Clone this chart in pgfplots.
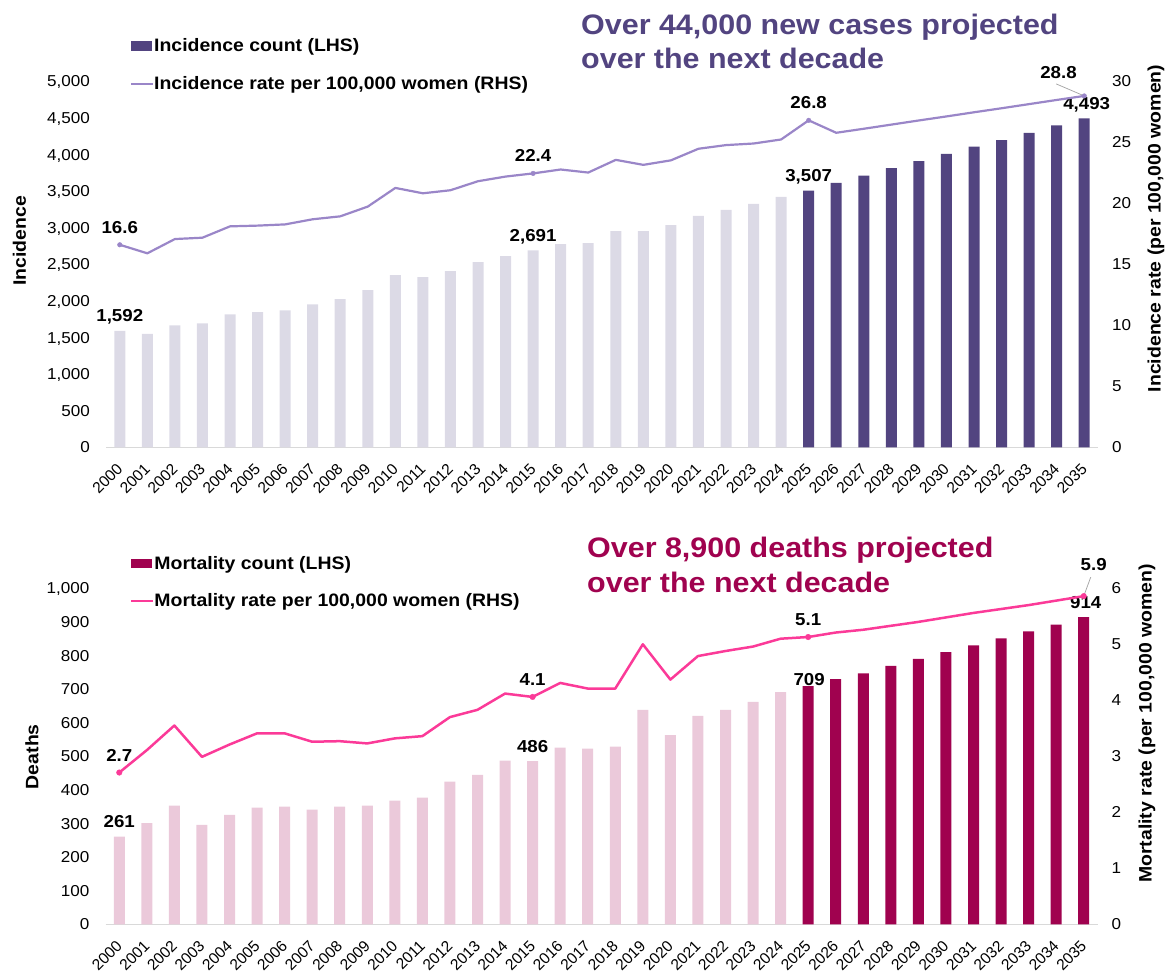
\documentclass[border=0pt]{standalone}
\usepackage{fontspec}
\setmainfont{Liberation Sans}[FakeStretch=1.08]
\newfontfamily\xtickfam{Liberation Sans}
\usepackage{pgfplots}
\pgfplotsset{compat=1.18}
\usepackage{pgfplotstable}

\definecolor{incdark}{HTML}{524480}
\definecolor{inclight}{HTML}{DCDAE6}
\definecolor{incline}{HTML}{9A86C8}
\definecolor{mortdark}{HTML}{A0024F}
\definecolor{mortlight}{HTML}{EBC9DA}
\definecolor{mortline}{HTML}{FB3A98}
\definecolor{axgray}{HTML}{D9D9D9}
\definecolor{leadgray}{HTML}{A6A6A6}

\newcommand{\tickfont}{\fontsize{15.8}{18}\selectfont}
\newcommand{\xtickfont}{\xtickfam\fontsize{15.6}{18}\selectfont}
\newcommand{\labfont}{\fontsize{17.3}{20}\selectfont\bfseries}
\newcommand{\legfont}{\fontsize{18}{21}\selectfont\bfseries}
\newcommand{\axtitlefont}{\fontsize{18}{21}\selectfont\bfseries}
\newcommand{\titlefont}{\fontsize{28.2}{34}\selectfont\bfseries}

% ---------- Incidence data ----------
\pgfplotstableread{
year count
2000 1592
2001 1550
2002 1667
2003 1694
2004 1817
2005 1845
2006 1872
2007 1954
2008 2023
2009 2146
2010 2352
2011 2324
2012 2406
2013 2530
2014 2612
2015 2691
2016 2776
2017 2790
2018 2954
2019 2954
2020 3036
2021 3160
2022 3242
2023 3324
2024 3420
}\inchist
\pgfplotstableread{
year count
2025 3507
2026 3612
2027 3712
2028 3813
2029 3909
2030 4009
2031 4109
2032 4196
2033 4297
2034 4397
2035 4493
}\incproj
\pgfplotstableread{
year rate
2000 16.6
2001 15.9
2002 17.07
2003 17.18
2004 18.11
2005 18.17
2006 18.27
2007 18.69
2008 18.93
2009 19.73
2010 21.26
2011 20.82
2012 21.07
2013 21.81
2014 22.19
2015 22.45
2016 22.77
2017 22.52
2018 23.56
2019 23.15
2020 23.52
2021 24.47
2022 24.77
2023 24.9
2024 25.23
2025 26.8
2026 25.78
2027 26.11
2028 26.45
2029 26.79
2030 27.12
2031 27.46
2032 27.79
2033 28.13
2034 28.47
2035 28.8
}\incrate
\pgfplotstableread{
year count lab
2000 1592 1,592
2015 2691 2,691
2025 3507 3,507
}\inclab
\pgfplotstableread{
year count lab
2035 4493 4,493
}\inclabend
\pgfplotstableread{
year rate lab
2000 16.6 16.6
2015 22.45 22.4
2025 26.8 26.8
}\incratelab
\pgfplotstableread{
year rate lab
2035 28.8 28.8
}\incratelabend

% ---------- Mortality data ----------
\pgfplotstableread{
year count
2000 261
2001 301
2002 353
2003 296
2004 326
2005 347
2006 350
2007 341
2008 350
2009 353
2010 368
2011 377
2012 425
2013 445
2014 487
2015 486
2016 526
2017 523
2018 529
2019 638
2020 563
2021 620
2022 638
2023 662
2024 691
}\morthist
\pgfplotstableread{
year count
2025 709
2026 730
2027 747
2028 769
2029 790
2030 810
2031 830
2032 851
2033 872
2034 892
2035 914
}\mortproj
\pgfplotstableread{
year rate
2000 2.71
2001 3.11
2002 3.55
2003 2.99
2004 3.21
2005 3.41
2006 3.41
2007 3.26
2008 3.27
2009 3.23
2010 3.32
2011 3.36
2012 3.70
2013 3.83
2014 4.12
2015 4.06
2016 4.31
2017 4.21
2018 4.21
2019 5.00
2020 4.37
2021 4.79
2022 4.88
2023 4.96
2024 5.10
2025 5.13
2026 5.21
2027 5.26
2028 5.33
2029 5.40
2030 5.48
2031 5.56
2032 5.63
2033 5.70
2034 5.78
2035 5.86
}\mortrate
\pgfplotstableread{
year count lab
2000 261 261
2015 486 486
}\mortlab
\pgfplotstableread{
year count lab
2025 709 709
}\mortlabmid
\pgfplotstableread{
year count lab
2035 914 914
}\mortlabend
\pgfplotstableread{
year rate lab
2000 2.71 2.7
2015 4.06 4.1
2025 5.13 5.1
}\mortratelab
\pgfplotstableread{
year rate lab
2035 5.86 5.9
}\mortratelabend

\pgfplotsset{
  baseax/.style={
    scale only axis, width=992pt, clip=false,
    xmin=1999.5, xmax=2035.5,
    /pgf/number format/assume math mode=true,
    major tick length=0pt,
    ylabel style={font=\axtitlefont, anchor=center},
  },
  leftax/.style={
    baseax,
    axis x line*=bottom, axis y line*=left,
    x axis line style={draw=axgray, line width=1.3pt},
    y axis line style={draw=none},
    xtick={2000,2001,...,2035},
    xticklabels={2000,2001,2002,2003,2004,2005,2006,2007,2008,2009,2010,2011,2012,2013,2014,2015,2016,2017,2018,2019,2020,2021,2022,2023,2024,2025,2026,2027,2028,2029,2030,2031,2032,2033,2034,2035},
    xticklabel style={font=\xtickfont, inner sep=0pt, yshift=-19pt, rotate=45, anchor=east},
    yticklabel style={font=\tickfont, inner sep=0pt, anchor=base east, xshift=-16pt, yshift=-5.66pt, /pgf/number format/1000 sep={,}},
    legend cell align=left,
    legend style={anchor=north west, draw=none, fill=none, inner sep=0pt, outer sep=0pt,
      font=\legfont, row sep=23pt, nodes={inner sep=0pt, outer sep=0pt}},
  },
  rightax/.style={
    baseax,
    axis x line=none, axis y line*=right,
    y axis line style={draw=none},
    xtick=\empty,
    yticklabel style={font=\tickfont, inner sep=0pt, anchor=base west, xshift=14pt, yshift=-5.66pt},
  },
  barlab/.style={draw=none, forget plot, nodes near coords, point meta=explicit symbolic,
    nodes near coords style={font=\labfont, text=black, anchor=base, inner sep=0pt, #1}},
  incbarleg/.style={legend image code/.code={\fill[incdark] (0pt,-4.85pt) rectangle (21pt,4.85pt); \path (23pt,0pt);}},
  inclineleg/.style={legend image code/.code={\draw[incline, line width=2pt] (0pt,0pt) -- (21.5pt,0pt); \path (23pt,0pt);}},
  mortbarleg/.style={legend image code/.code={\fill[mortdark] (0pt,-4.85pt) rectangle (21pt,4.85pt); \path (23pt,0pt);}},
  mortlineleg/.style={legend image code/.code={\draw[mortline, line width=2.5pt] (0pt,0pt) -- (21.5pt,0pt); \path (23pt,0pt);}},
}

\begin{document}
\begin{tikzpicture}
% ================= TOP: INCIDENCE =================
\begin{axis}[leftax, at={(106pt,524.7pt)}, anchor=south west, height=366pt,
  ymin=0, ymax=5000, ytick={0,500,...,5000},
  ylabel={Incidence}, ylabel style={at={(axis description cs:-0.0872,0.5642)}},
  legend style={at={(axis description cs:0.0242,1.1159)}}]
\addplot[ybar, bar width=11pt, fill=inclight, draw=none, forget plot] table[x=year,y=count]{\inchist};
\addplot[ybar, bar width=11pt, fill=incdark, draw=none, incbarleg] table[x=year,y=count]{\incproj};
\addlegendentry{Incidence count (LHS)}
\addlegendimage{inclineleg}
\addlegendentry{Incidence rate per 100,000 women (RHS)}
\addplot[barlab={yshift=9pt}] table[x=year,y=count,meta=lab]{\inclab};
\addplot[barlab={xshift=2.5pt,yshift=9pt}] table[x=year,y=count,meta=lab]{\inclabend};
\end{axis}
\begin{axis}[rightax, at={(106pt,524.7pt)}, anchor=south west, height=366pt,
  ymin=0, ymax=30, ytick={0,5,...,30},
  ylabel={Incidence rate (per 100,000 women)}, ylabel style={at={(axis description cs:1.0585,0.598)}}]
\addplot[incline, line width=2.2pt, line join=round, mark=none] table[x=year,y=rate]{\incrate};
\addplot[only marks, mark=*, mark size=2.3pt, color=incline, forget plot, nodes near coords, point meta=explicit symbolic,
  nodes near coords style={font=\labfont, text=black, anchor=base, inner sep=0pt, yshift=11.5pt}]
  table[x=year,y=rate,meta=lab]{\incratelab};
\draw[leadgray, line width=0.75pt] (axis cs:2035,28.8) -- ++(-28pt,12pt);
\addplot[only marks, mark=*, mark size=2.3pt, color=incline, forget plot, nodes near coords, point meta=explicit symbolic,
  nodes near coords style={font=\labfont, text=black, anchor=base, inner sep=0pt, xshift=-25.7pt, yshift=17.8pt}]
  table[x=year,y=rate,meta=lab]{\incratelabend};
\end{axis}
\node[anchor=base west, inner sep=0pt, font=\titlefont, text=incdark] at (581pt,937pt) {Over 44,000 new cases projected};
\node[anchor=base west, inner sep=0pt, font=\titlefont, text=incdark] at (581pt,903pt) {over the next decade};

% ================= BOTTOM: MORTALITY =================
\begin{axis}[leftax, at={(105.5pt,47.7pt)}, anchor=south west, height=336pt,
  ymin=0, ymax=1000, ytick={0,100,...,1000},
  ylabel={Deaths}, ylabel style={at={(axis description cs:-0.0741,0.4988)}},
  legend style={at={(axis description cs:0.0247,1.0955)}}]
\addplot[ybar, bar width=11pt, fill=mortlight, draw=none, forget plot] table[x=year,y=count]{\morthist};
\addplot[ybar, bar width=11pt, fill=mortdark, draw=none, mortbarleg] table[x=year,y=count]{\mortproj};
\addlegendentry{Mortality count (LHS)}
\addlegendimage{mortlineleg}
\addlegendentry{Mortality rate per 100,000 women (RHS)}
\addplot[barlab={yshift=9pt}] table[x=year,y=count,meta=lab]{\mortlab};
\addplot[barlab={xshift=1pt,yshift=0.5pt}] table[x=year,y=count,meta=lab]{\mortlabmid};
\addplot[barlab={xshift=2pt,yshift=8.7pt}] table[x=year,y=count,meta=lab]{\mortlabend};
\end{axis}
\begin{axis}[rightax, at={(105.5pt,47.7pt)}, anchor=south west, height=336pt,
  ymin=0, ymax=6, ytick={0,1,...,6},
  ylabel={Mortality rate (per 100,000 women)}, ylabel style={at={(axis description cs:1.0499,0.598)}}]
\addplot[mortline, line width=2.5pt, line join=round, mark=none] table[x=year,y=rate]{\mortrate};
\addplot[only marks, mark=*, mark size=2.8pt, color=mortline, forget plot, nodes near coords, point meta=explicit symbolic,
  nodes near coords style={font=\labfont, text=black, anchor=base, inner sep=0pt, yshift=11.3pt}]
  table[x=year,y=rate,meta=lab]{\mortratelab};
\draw[leadgray, line width=0.75pt] (axis cs:2035,5.86) -- ++(7pt,19pt);
\addplot[only marks, mark=*, mark size=2.8pt, color=mortline, forget plot, nodes near coords, point meta=explicit symbolic,
  nodes near coords style={font=\labfont, text=black, anchor=base, inner sep=0pt, xshift=10pt, yshift=25.5pt}]
  table[x=year,y=rate,meta=lab]{\mortratelabend};
\end{axis}
\node[anchor=base west, inner sep=0pt, font=\titlefont, text=mortdark] at (587pt,414pt) {Over 8,900 deaths projected};
\node[anchor=base west, inner sep=0pt, font=\titlefont, text=mortdark] at (587pt,379pt) {over the next decade};

\pgfresetboundingbox
\path[use as bounding box] (0,0) rectangle (1172pt,972pt);
\end{tikzpicture}
\end{document}
